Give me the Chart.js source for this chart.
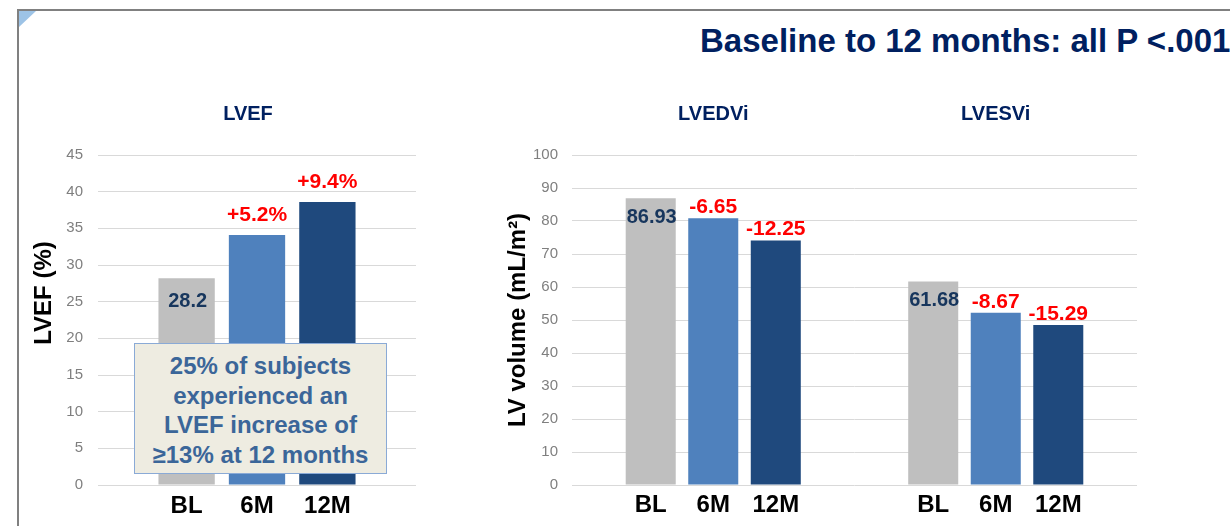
<!DOCTYPE html>
<html>
<head>
<meta charset="utf-8">
<title>LV remodelling to 12 months</title>
<script src="https://cdn.jsdelivr.net/npm/chart.js@4/dist/chart.umd.min.js"></script>
<style>
  html, body { margin: 0; padding: 0; background: #fff; }
  body { position: relative; width: 1230px; height: 526px; overflow: hidden; font-family: "Liberation Sans", Arial, sans-serif; }
  #frame { position: absolute; left: 17px; top: 9px; width: 1240px; height: 540px; border-top: 2px solid #808080; border-left: 2px solid #808080; }
  #corner { position: absolute; left: 19px; top: 11px; width: 0; height: 0; border-top: 16px solid #9DC3E6; border-right: 17px solid transparent; }
  #headline { position: absolute; left: 700px; top: 24px; font-size: 33px; line-height: 33px; font-weight: bold; color: #002060; white-space: nowrap; z-index: 2; }
  #lvefChart { position: absolute; left: 20px; top: 95px; }
  #volumeChart { position: absolute; left: 480px; top: 95px; }
  #callout { position: absolute; left: 134px; top: 343px; width: 251px; height: 122px; padding-top: 7px; box-sizing: content-box;
             background: #EEECE1; border: 1px solid #8AAAD6; color: #3B6699; font-size: 24px; line-height: 29.7px;
             font-weight: bold; text-align: center; z-index: 2; }
</style>
</head>
<body>
<div id="frame"></div>
<div id="corner"></div>
<div id="headline">Baseline to 12 months: all P &lt;.001</div>
<canvas id="lvefChart" width="460" height="431"></canvas>
<canvas id="volumeChart" width="750" height="431"></canvas>
<div id="callout">25% of subjects<br>experienced an<br>LVEF increase of<br>≥13% at 12 months</div>

<script>
const FONT = '"Liberation Sans", Arial, sans-serif';

const periods = ["BL", "6M", "12M"];
const periodColors = ["#BFBFBF", "#4F81BD", "#1F497D"];

// LVEF (%), one value per period
const lvefGroups = ["LVEF"];
const lvefValues = [28.2, 34.1, 38.6];
const lvefChanges = ["+5.2%", "+9.4%"];

// LV volumes (mL/m²) per period
const volumeGroups = ["LVEDVi", "LVESVi"];
const volumeBL = [86.93, 61.68];
const volume6M = [80.8, 52.2];
const volume12M = [74.1, 48.5];
const volume6MChanges = ["-6.65", "-8.67"];
const volume12MChanges = ["-12.25", "-15.29"];

// y axis ranges
const lvefAxis = { max: 45, step: 5 };
const volumeAxis = { max: 100, step: 10 };

// period name under each bar, baseline value inside the bar, change above the others
const barText = {
  id: "barText",
  afterDatasetsDraw(chart, args, opts) {
    const ctx = chart.ctx;
    const bottom = chart.chartArea.bottom;
    ctx.save();
    ctx.textAlign = "center";
    ctx.textBaseline = "middle";
    chart.data.datasets.forEach((ds, i) => {
      chart.getDatasetMeta(i).data.forEach((bar, j) => {
        ctx.font = "bold 24px " + FONT;
        ctx.fillStyle = "#000";
        ctx.fillText(ds.label, bar.x, bottom + opts.labelGap);

        const note = ds.notes[j];
        if (!note) return;
        if (ds.noteInside) {
          ctx.font = "bold 20px " + FONT;
          ctx.fillStyle = "#17365D";
          ctx.fillText(note, bar.x + 1, bar.y + opts.insideGap);
        } else {
          ctx.font = "bold 21px " + FONT;
          ctx.fillStyle = "#FF0000";
          ctx.fillText(note, bar.x, bar.y - opts.aboveGap);
        }
      });
    });
    ctx.restore();
  }
};

// rotated y axis caption
const sideTitle = {
  id: "sideTitle",
  afterDraw(chart, args, opts) {
    const ctx = chart.ctx;
    ctx.save();
    ctx.translate(opts.x, opts.y);
    ctx.rotate(-Math.PI / 2);
    ctx.font = "bold 24px " + FONT;
    ctx.fillStyle = "#000";
    ctx.textAlign = "center";
    ctx.textBaseline = "middle";
    ctx.fillText(opts.text, 0, 0);
    ctx.restore();
  }
};

function makeDatasets(valueSets, noteSets) {
  return periods.map((p, i) => ({
    label: p,
    data: valueSets[i],
    notes: noteSets[i],
    noteInside: i === 0,
    backgroundColor: periodColors[i],
    borderWidth: 0,
    categoryPercentage: 0.664,
    barPercentage: 0.8
  }));
}

function makeOptions(axis, yWidth, tickPad, labelOffset, textOpts, titleOpts, padRight) {
  return {
    responsive: false,
    animation: false,
    layout: { padding: { top: 0, left: 0, right: padRight, bottom: 41 } },
    plugins: {
      legend: { display: false },
      tooltip: { enabled: false },
      barText: textOpts,
      sideTitle: titleOpts
    },
    scales: {
      x: {
        position: "top",
        grid: { display: false },
        border: { display: false },
        ticks: { color: "#002060", font: { family: FONT, size: 20, weight: "bold" }, padding: 21, labelOffset: labelOffset },
        afterFit: (scale) => { scale.height = 60; }
      },
      y: {
        min: 0,
        max: axis.max,
        grid: { color: "#D9D9D9", drawTicks: false },
        border: { display: false },
        ticks: { stepSize: axis.step, color: "#7F7F7F", font: { family: FONT, size: 15 }, padding: tickPad },
        afterFit: (scale) => { scale.width = yWidth; }
      }
    }
  };
}

new Chart(document.getElementById("lvefChart"), {
  type: "bar",
  data: {
    labels: lvefGroups,
    datasets: makeDatasets(
      lvefValues.map((v) => [v]),
      [[String(lvefValues[0])], [lvefChanges[0]], [lvefChanges[1]]]
    )
  },
  options: makeOptions(lvefAxis, 78, 15, -9,
    { labelGap: 21, insideGap: 23, aboveGap: 20 },
    { text: "LVEF (%)", x: 24, y: 198 }, 64),
  plugins: [barText, sideTitle]
});

new Chart(document.getElementById("volumeChart"), {
  type: "bar",
  data: {
    labels: volumeGroups,
    datasets: makeDatasets(
      [volumeBL, volume6M, volume12M],
      [volumeBL.map((v) => v.toFixed(2)), volume6MChanges, volume12MChanges]
    )
  },
  options: makeOptions(volumeAxis, 92, 14, 0,
    { labelGap: 20, insideGap: 19, aboveGap: 11 },
    { text: "LV volume (mL/m²)", x: 38, y: 225 }, 93),
  plugins: [barText, sideTitle]
});
</script>
</body>
</html>
